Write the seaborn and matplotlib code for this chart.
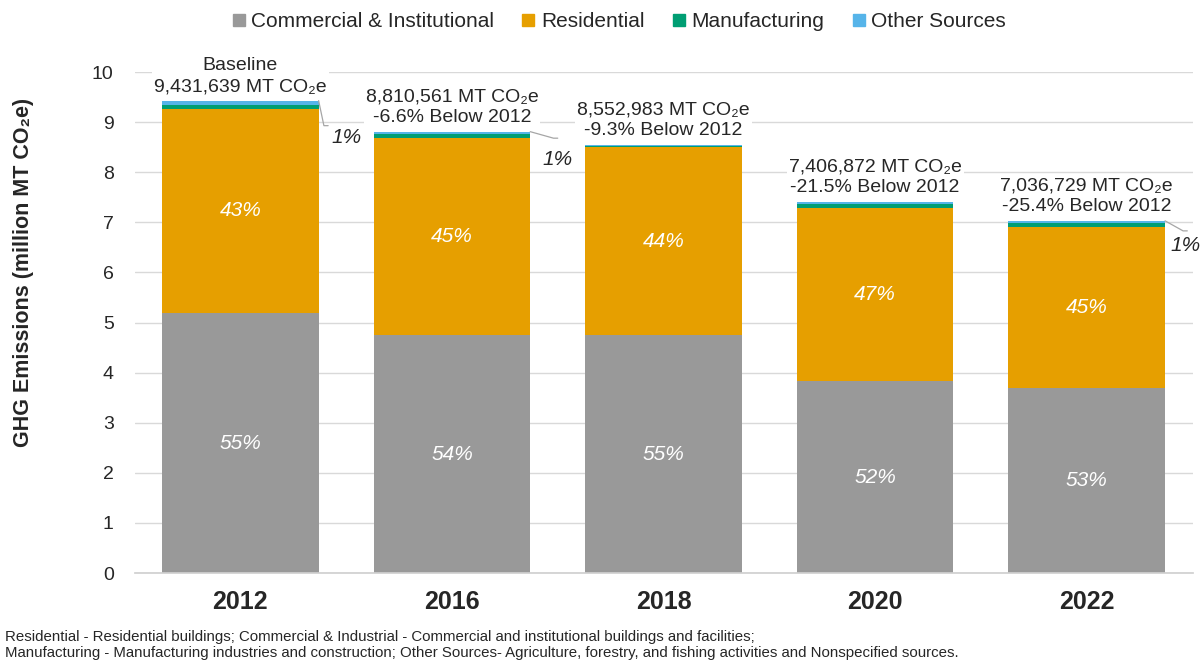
import matplotlib
matplotlib.use("Agg")
import matplotlib.pyplot as plt
import seaborn as sns
import numpy as np
import pandas as pd
from matplotlib.lines import Line2D

years = ["2012", "2016", "2018", "2020", "2022"]
commercial = [5.19, 4.75, 4.75, 3.83, 3.70]
residential = [4.08, 3.93, 3.75, 3.46, 3.21]
manufacturing = [0.08, 0.08, 0.03, 0.08, 0.08]
other = [0.08, 0.05, 0.02, 0.04, 0.04]
commercial_pct = ["55%", "54%", "55%", "52%", "53%"]
residential_pct = ["43%", "45%", "44%", "47%", "45%"]
top_labels = [
    "Baseline\n9,431,639 MT CO\u2082e",
    "8,810,561 MT CO\u2082e\n-6.6% Below 2012",
    "8,552,983 MT CO\u2082e\n-9.3% Below 2012",
    "7,406,872 MT CO\u2082e\n-21.5% Below 2012",
    "7,036,729 MT CO\u2082e\n-25.4% Below 2012",
]
series_names = ["Commercial & Institutional", "Residential", "Manufacturing", "Other Sources"]
colors = ["#999999", "#E69F00", "#009E73", "#56B4E9"]
yticks = [0, 1, 2, 3, 4, 5, 6, 7, 8, 9, 10]
footnote = ("Residential - Residential buildings; Commercial & Industrial - Commercial and institutional buildings and facilities;\n"
            "Manufacturing - Manufacturing industries and construction; Other Sources- Agriculture, forestry, and fishing activities and Nonspecified sources.")

sns.set_theme(style="white")
plt.rcParams["font.family"] = ["Liberation Sans", "DejaVu Sans"]

fig = plt.figure(figsize=(12.01, 6.61), dpi=100)
ax = fig.add_axes([0.112, 0.133, 0.881, 0.758])

series = [commercial, residential, manufacturing, other]
bottom = np.zeros(len(years))
for vals, col in zip(series, colors):
    df = pd.DataFrame({"year": years, "val": vals})
    sns.barplot(data=df, x="year", y="val", color=col, bottom=bottom, width=0.74,
                ax=ax, saturation=1, linewidth=0, zorder=3)
    bottom = bottom + np.array(vals)

totals = bottom
c = np.array(commercial)
r = np.array(residential)
for i in range(len(years)):
    ax.text(i, c[i] / 2, commercial_pct[i], ha="center", va="center", color="white",
            fontsize=15, style="italic", zorder=5)
    ax.text(i, c[i] + r[i] / 2, residential_pct[i], ha="center", va="center", color="white",
            fontsize=15, style="italic", zorder=5)
    ax.annotate(top_labels[i], xy=(i, totals[i]), xytext=(0, 4), textcoords="offset points",
                ha="center", va="bottom", fontsize=14, linespacing=1.3, zorder=6,
                bbox=dict(boxstyle="square,pad=0.1", fc="white", ec="none"))

# small-share leader labels
leaders = [(0, 0.395, totals[0] - 0.5, 0.43, totals[0] - 0.73),
           (1, 1.48, totals[1] - 0.13, 1.43, totals[1] - 0.55),
           (4, 4.455, totals[4] - 0.2, 4.395, totals[4] - 0.5)]
for i, lx, ly, tx, ty in leaders:
    x0 = i + 0.37
    ax.add_line(Line2D([x0, lx, lx + 0.02], [totals[i], ly, ly], color="#A6A6A6", lw=0.9,
                       zorder=4, clip_on=False))
    ax.text(tx, ty, "1%", ha="left", va="center", fontsize=15, style="italic", zorder=5,
            clip_on=False)

ax.set_xlim(-0.5, 4.5)
ax.set_ylim(0, 10)
ax.set_yticks(yticks)
ax.set_yticklabels([str(t) for t in yticks], fontsize=14)
ax.tick_params(axis="x", labelsize=18, length=0, pad=12)
ax.tick_params(axis="y", length=0, pad=15)
for lbl in ax.get_xticklabels():
    lbl.set_fontweight("bold")
ax.set_xlabel("")
ax.set_ylabel("GHG Emissions (million MT CO\u2082e)", fontsize=15.5, fontweight="bold")
ax.yaxis.set_label_coords(-0.095, 0.60)
ax.yaxis.grid(True, color="#D9D9D9", lw=1, zorder=0)
ax.set_axisbelow(True)
for s in ["top", "right", "left"]:
    ax.spines[s].set_visible(False)
ax.spines["bottom"].set_color("#D0D0D0")
ax.spines["bottom"].set_zorder(4)

handles = [Line2D([], [], marker="s", linestyle="none", markersize=8, color=col) for col in colors]
fig.legend(handles, series_names, loc="upper center", bbox_to_anchor=(0.515, 1.01), ncol=4,
           frameon=False, fontsize=15, handlelength=0.7, handletextpad=0.25, columnspacing=1.3)

fig.text(0.004, 0.001, footnote, ha="left", va="bottom", fontsize=10.8, linespacing=1.2)

fig.savefig("out.png", dpi=100)
